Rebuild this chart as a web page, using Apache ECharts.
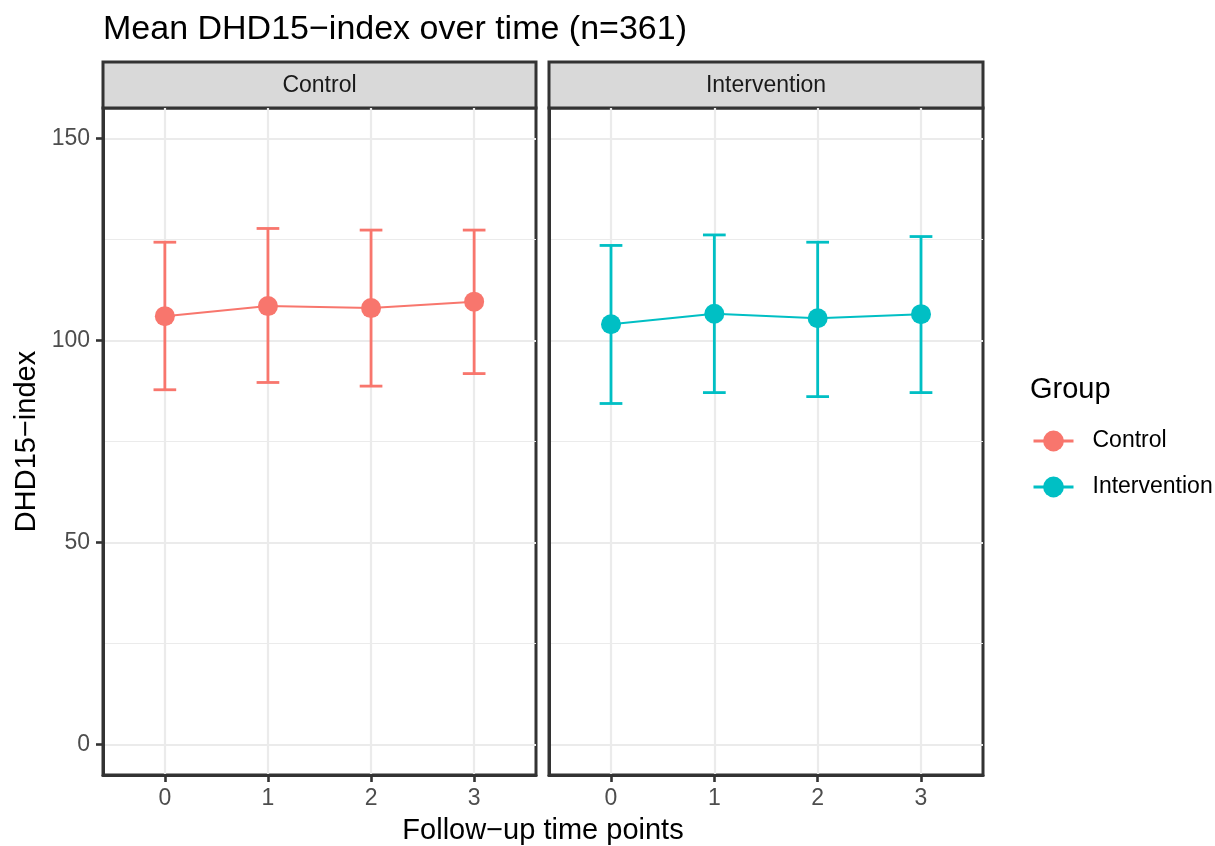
<!DOCTYPE html>
<html><head><meta charset="utf-8">
<script src="https://cdn.jsdelivr.net/npm/echarts@6/dist/echarts.min.js"></script>
<style>html,body{margin:0;padding:0;background:#fff}#c{width:1215px;height:846px}</style>
</head><body><div id="c"></div>
<script>
const timePoints = [0, 1, 2, 3];
const groups = ['Control', 'Intervention'];
const controlMean = [106.0, 108.5, 108.0, 109.6];
const controlLow  = [87.8, 89.6, 88.7, 91.8];
const controlHigh = [124.3, 127.7, 127.3, 127.3];
const interMean = [104.0, 106.6, 105.5, 106.5];
const interLow  = [84.4, 87.1, 86.1, 87.1];
const interHigh = [123.5, 126.1, 124.3, 125.7];
const yTicks = [0, 50, 100, 150];
const yMinor = [25, 75, 125];
const colors = ['#F8766D', '#00BFC4'];

const chart = echarts.init(document.getElementById('c'));
const font = 'Liberation Sans, Arial, sans-serif';
const panels = [
  {left: 103, width: 433},
  {left: 549, width: 434}
];
const panelTop = 108, panelHeight = 667;

function gridLines(i) {
  const data = [];
  yTicks.forEach(v => data.push({yAxis: v, lineStyle: {width: 2.2}}));
  yMinor.forEach(v => data.push({yAxis: v, lineStyle: {width: 1.1}}));
  timePoints.forEach(v => data.push({xAxis: v, lineStyle: {width: 2.2}}));
  return {
    type: 'line', xAxisIndex: i, yAxisIndex: i, data: [], z: 0, silent: true,
    markLine: {z: 0, silent: true, symbol: 'none', label: {show: false}, animation: false,
      lineStyle: {color: '#EBEBEB', type: 'solid'}, data: data}
  };
}

function errSeries(i, low, high) {
  return {
    type: 'custom', xAxisIndex: i, yAxisIndex: i, z: 6, silent: true,
    data: timePoints.map((t, k) => [t, low[k], high[k]]),
    renderItem: function (params, api) {
      const x = api.value(0);
      const lo = api.coord([x, api.value(1)]);
      const hi = api.coord([x, api.value(2)]);
      const hw = api.size([0.11, 0])[0];
      const st = {stroke: colors[i], lineWidth: 2.8};
      return {type: 'group', children: [
        {type: 'line', shape: {x1: lo[0], y1: lo[1], x2: hi[0], y2: hi[1]}, style: st},
        {type: 'line', shape: {x1: lo[0]-hw, y1: lo[1], x2: lo[0]+hw, y2: lo[1]}, style: st},
        {type: 'line', shape: {x1: hi[0]-hw, y1: hi[1], x2: hi[0]+hw, y2: hi[1]}, style: st}
      ]};
    }
  };
}

function lineSeries(i, mean) {
  return {
    type: 'line', name: groups[i], xAxisIndex: i, yAxisIndex: i, z: 7,
    data: timePoints.map((t, k) => [t, mean[k]]),
    symbol: 'circle', symbolSize: 20,
    itemStyle: {color: colors[i]},
    lineStyle: {color: colors[i], width: 2},
    emphasis: {disabled: true}
  };
}

const option = {
  animation: false,
  backgroundColor: '#fff',
  grid: panels.map(p => ({left: p.left, top: panelTop, width: p.width, height: panelHeight,
    show: true, borderColor: '#333333', borderWidth: 3, backgroundColor: 'transparent'})),
  xAxis: panels.map((p, i) => ({
    type: 'value', gridIndex: i, min: -0.6, max: 3.6,
    splitLine: {show: false},
    axisLine: {show: true, onZero: false, lineStyle: {color: '#333333', width: 3}},
    axisTick: {show: true, customValues: timePoints, length: 7, lineStyle: {color: '#333333', width: 2.6}},
    axisLabel: {show: true, customValues: timePoints, color: '#4D4D4D', fontSize: 23, fontFamily: font, margin: 12}
  })),
  yAxis: panels.map((p, i) => ({
    type: 'value', gridIndex: i, min: -7.5, max: 157.5,
    splitLine: {show: false},
    axisLine: {show: true, onZero: false, lineStyle: {color: '#333333', width: 3}},
    axisTick: {show: i === 0, customValues: yTicks, length: 7, lineStyle: {color: '#333333', width: 2.6}},
    axisLabel: {show: i === 0, customValues: yTicks, color: '#4D4D4D', fontSize: 23, fontFamily: font, margin: 13},
    name: i === 0 ? 'DHD15\u2212index' : '',
    nameLocation: 'middle', nameGap: 62, nameRotate: 90,
    nameTextStyle: {color: '#000', fontSize: 29, fontFamily: font}
  })),
  legend: {
    orient: 'vertical', left: 1027, top: 423, itemGap: 20,
    itemWidth: 40, itemHeight: 26,
    data: groups,
    lineStyle: {width: 3},
    textStyle: {color: '#000', fontSize: 23, lineHeight: 26, fontFamily: font, padding: [0, 0, 0, 14]}
  },
  series: [
    gridLines(0), gridLines(1),
    errSeries(0, controlLow, controlHigh), errSeries(1, interLow, interHigh),
    lineSeries(0, controlMean), lineSeries(1, interMean)
  ],
  graphic: [
    {type: 'text', left: 103, top: 13, style: {text: 'Mean DHD15\u2212index over time (n=361)', fill: '#000', fontSize: 34, fontFamily: font}},
    {type: 'rect', shape: {x: 103, y: 62, width: 433, height: 46}, style: {fill: '#D9D9D9', stroke: '#333333', lineWidth: 3}},
    {type: 'rect', shape: {x: 549, y: 62, width: 434, height: 46}, style: {fill: '#D9D9D9', stroke: '#333333', lineWidth: 3}},
    {type: 'text', x: 319.5, y: 86, style: {text: groups[0], fill: '#1A1A1A', fontSize: 23, fontFamily: font, align: 'center', verticalAlign: 'middle'}},
    {type: 'text', x: 766, y: 86, style: {text: groups[1], fill: '#1A1A1A', fontSize: 23, fontFamily: font, align: 'center', verticalAlign: 'middle'}},
    {type: 'text', x: 543, y: 831, style: {text: 'Follow\u2212up time points', fill: '#000', fontSize: 29, fontFamily: font, align: 'center', verticalAlign: 'middle'}},
    {type: 'text', x: 1030, y: 390, style: {text: 'Group', fill: '#000', fontSize: 29, fontFamily: font, verticalAlign: 'middle'}}
  ]
};
chart.setOption(option);
</script></body></html>
